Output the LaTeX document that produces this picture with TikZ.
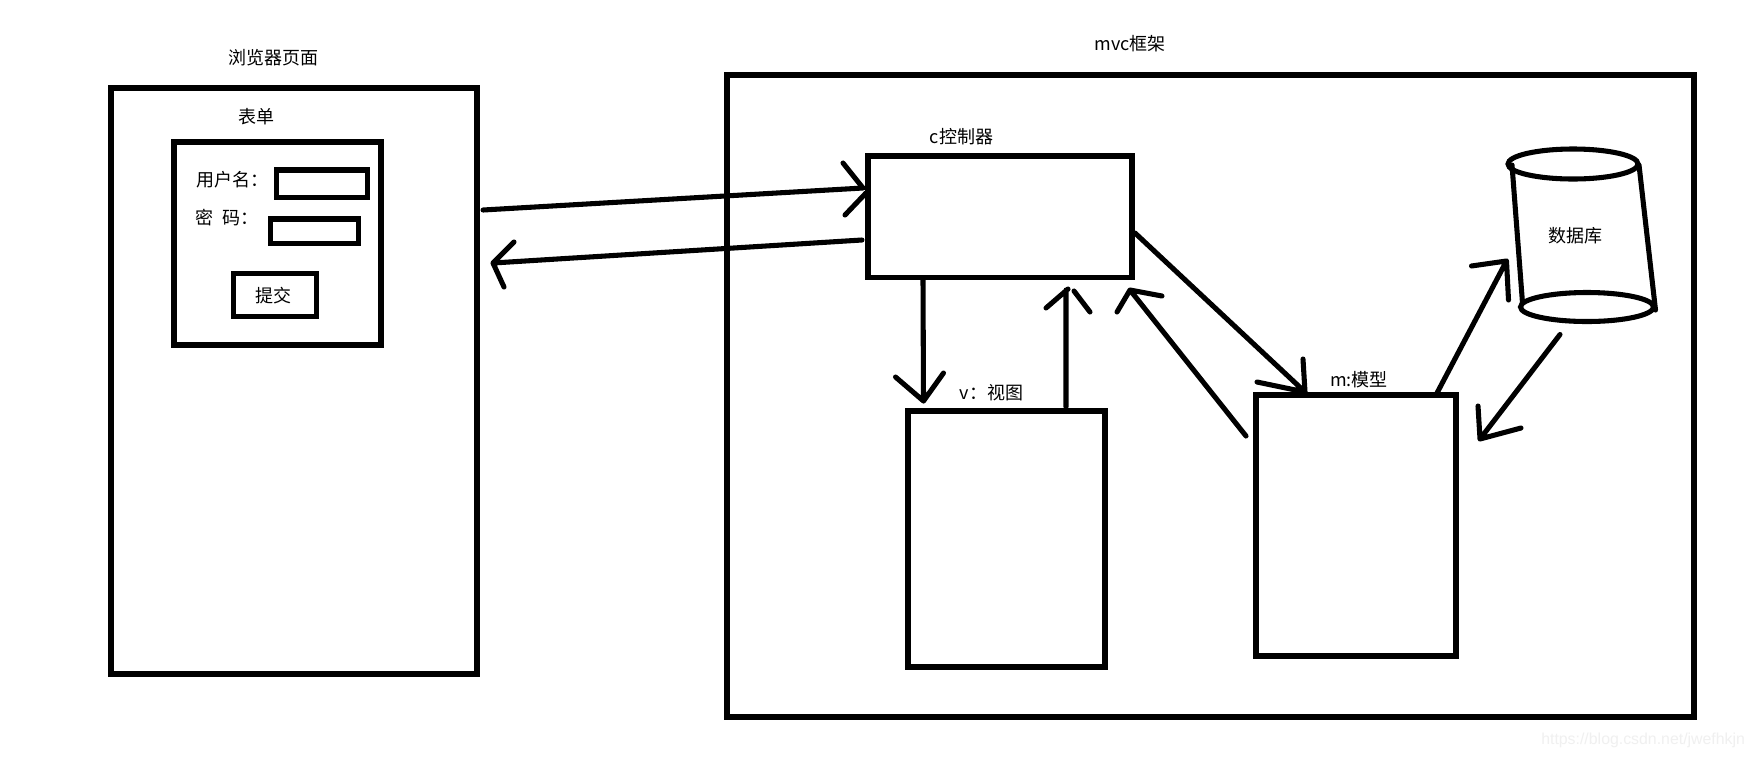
\documentclass[tikz,border=0pt]{standalone}
\usepackage{fontspec}
\setmainfont{Noto Sans CJK SC}
\newfontfamily\markfont{Liberation Sans}
\usetikzlibrary{shapes.geometric}
\tikzset{
  box/.style 2 args={draw=black,line width=3.9pt,rectangle,inner sep=0pt,outer sep=0pt,
    minimum width=#1*0.75pt,minimum height=#2*0.75pt},
  lid/.style={draw=black,line width=3.8pt,ellipse,inner sep=0pt,outer sep=0pt},
  conn/.style={draw=black,line width=3.8pt,line cap=round,line join=round},
  lab/.style={inner sep=0pt,outer sep=0pt,font=\fontsize{13.5pt}{14pt}\selectfont,text=black},
  mark text/.style={inner sep=0pt,outer sep=0pt,font=\markfont\fontsize{11.9pt}{12pt}\selectfont,text=black!6}
}
\begin{document}
\begin{tikzpicture}[x=0.75pt,y=-0.75pt]
\useasboundingbox (0,0) rectangle (1753,758);
\fill[white] (0,0) rectangle (1753,758);
% boxes
\node[box={366}{586}] (browser) at (294,381) {};
\node[box={207}{203}] (form) at (277.5,243.5) {};
\node[box={91}{27.5}] (in1) at (322,183.75) {};
\node[box={88}{24.5}] (in2) at (314.5,231.25) {};
\node[box={83}{43}] (submit) at (275,295) {};
\node[box={967}{642}] (mvc) at (1210.5,396) {};
\node[box={264}{121.5}] (ctrl) at (1000,216.75) {};
\node[box={197}{256}] (view) at (1006.5,539) {};
\node[box={200}{261}] (model) at (1356,525.5) {};
% database cylinder
\node[lid,minimum width=130*0.75pt,minimum height=30*0.75pt] (dbtop) at (1573,164) {};
\node[lid,minimum width=133*0.75pt,minimum height=29*0.75pt] (dbbot) at (1587,307) {};
\draw[conn] ([shift={(4,1)}]dbtop.west) -- ([shift={(2,-4)}]dbbot.west);
\draw[conn] ([shift={(1,1)}]dbtop.east) -- ([shift={(2,3)}]dbbot.east);
% labels
\node[lab] (tbrowser) at (273,58) {浏览器页面};
\node[lab] (tform) at (256,117) {表单};
\node[lab,anchor=west] (tuser) at (196,180) {用户名：};
\node[lab,anchor=west] (tpass) at (195,218) {密\hspace{7.5pt}码：};
\node[lab] (tsubmit) at (273,296) {提交};
\node[lab] (tmvc) at (1130,44) {mvc框架};
\node[lab] (tctrl) at (961.5,137) {c控制器};
\node[lab] (tview) at (991.5,393) {v：视图};
\node[lab] (tmodel) at (1359,380) {m:模型};
\node[lab] (tdb) at (1575,236) {数据库};
\node[mark text,anchor=east] (wm) at (1745,740) {https://blog.csdn.net/jwefhkjn};
% connectors
\draw[conn] ([shift={(6,-171)}]browser.east) -- ([shift={(-5,-28.75)}]ctrl.west) ++(-20,-25) -- ++(20,25);
\draw[conn] ([shift={(-2,-23.75)}]ctrl.west) -- ++(-21,22);
\draw[conn] ([shift={(-6,23.25)}]ctrl.west) -- ([shift={(16,-118)}]browser.east) ++(21,-21) -- ++(-21,21) -- ++(11,24);
\draw[conn] ([shift={(-77,2.5)}]ctrl.south) -- ([shift={(-83,-10)}]view.north) ++(-28,-24) -- ++(28,24) -- ++(20,-28);
\draw[conn] ([shift={(59.5,-4)}]view.north) -- ([shift={(66,12.5)}]ctrl.south) ++(-20,18) -- ++(22,-19);
\draw[conn] ([shift={(74,13.5)}]ctrl.south) -- ++(16,21);
\draw[conn] ([shift={(-10,-89.5)}]model.west) -- ([shift={(130,12.5)}]ctrl.south) ++(-13,22) -- ++(13,-22) -- ++(32,6);
\draw[conn] ([shift={(3,16.25)}]ctrl.east) -- ([shift={(-51,-3)}]model.north) ++(-2,-33) -- ++(2,33) -- ++(-48,-10);
\draw[conn] ([shift={(81,-2)}]model.north) -- ([shift={(-14,-46)}]dbbot.west) ++(-35,5) -- ++(35,-5) -- ++(2,39);
\draw[conn] ([shift={(-27,13)}]dbbot.south) -- ([shift={(24,-86.5)}]model.east) ++(-2,-33) -- ++(2,33) -- ++(41,-11);
\end{tikzpicture}
\end{document}
